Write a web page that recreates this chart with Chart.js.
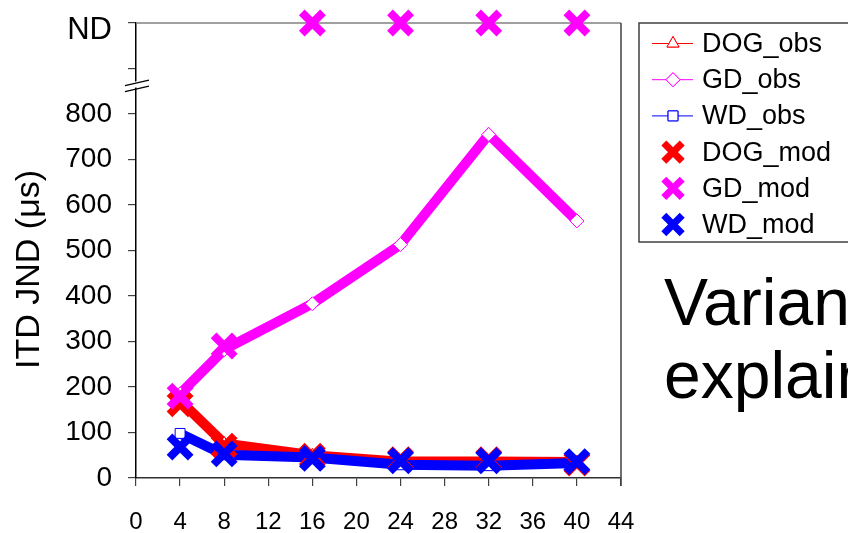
<!DOCTYPE html>
<html>
<head>
<meta charset="utf-8">
<script src="https://cdn.jsdelivr.net/npm/chart.js@4.4.1/dist/chart.umd.min.js"></script>
<style>
  html, body { margin: 0; padding: 0; background: #ffffff; overflow: hidden; }
  #wrap { position: relative; width: 848px; height: 533px; overflow: hidden; }
  #c { position: absolute; left: 0; top: 0; }
  #note { position: absolute; left: 664px; top: 266px; font-family: "Liberation Sans", Arial, sans-serif;
          font-size: 66px; line-height: 73px; color: #000; white-space: nowrap; }
</style>
</head>
<body>
<div id="wrap">
  <canvas id="c" width="848" height="533"></canvas>
  <div id="note">Variance<br>explained</div>
</div>
<script>
// ---- data ----
const xValues = [4, 8, 16, 24, 32, 40];
const ND = 1000;                      // plotted level for "not determined"
const dogObs = [170, 76, 50, 36, 36, 35];
const gdObs  = [185, 282, 383, 513, 755, 565];
const wdObs  = [98, 51, 45, 29, 27, 33];
const dogMod = [163, 70, 48, 40, 40, 33];
const gdMod  = [180, 290, ND, ND, ND, ND];
const wdMod  = [68, 53, 43, 38, 38, 36];
const xTicks = [0, 4, 8, 12, 16, 20, 24, 28, 32, 36, 40, 44];
const yTickLabels = {0:'0',100:'100',200:'200',300:'300',400:'400',500:'500',600:'600',700:'700',800:'800',900:'',1000:'ND'};

const RED = '#ff0000', MAG = '#ff00ff', BLUE = '#0000ff';
const FONT = '"Liberation Sans", Arial, sans-serif';

function pts(arr) { return xValues.map((x, i) => ({ x: x, y: arr[i] })); }

function obsSet(label, arr, color, style, order) {
  return { label, data: pts(arr), borderColor: color, backgroundColor: '#ffffff',
    borderWidth: 10, pointStyle: style, pointRadius: 7, pointBorderWidth: 1,
    pointBorderColor: color, pointBackgroundColor: '#ffffff', showLine: true,
    tension: 0, order, clip: false, legendKind: 'obs' };
}
function modSet(label, arr, color, order) {
  return { label, data: pts(arr), borderColor: color, backgroundColor: color,
    showLine: false, pointStyle: 'crossRot', pointRadius: 15, pointBorderWidth: 8,
    pointBorderColor: color, order, clip: false, legendKind: 'mod' };
}

const datasets = [
  obsSet('DOG_obs', dogObs, RED, 'triangle', 6),
  obsSet('GD_obs', gdObs, MAG, 'rectRot', 5),
  obsSet('WD_obs', wdObs, BLUE, 'rect', 4),
  modSet('DOG_mod', dogMod, RED, 3),
  modSet('GD_mod', gdMod, MAG, 2),
  modSet('WD_mod', wdMod, BLUE, 1)
];

// frame: top grey line, right border, axis break, legend
const framePlugin = {
  id: 'frame',
  beforeDatasetsDraw(chart) {
    const ctx = chart.ctx, a = chart.chartArea, ys = chart.scales.y;
    ctx.save();
    ctx.strokeStyle = '#808080'; ctx.lineWidth = 1.5;
    ctx.beginPath(); ctx.moveTo(a.left, a.top); ctx.lineTo(a.right, a.top); ctx.stroke();
    ctx.strokeStyle = '#404040';
    ctx.beginPath(); ctx.moveTo(a.right, a.top); ctx.lineTo(a.right, a.bottom + 8); ctx.stroke();
    // axis break
    const yb = ys.getPixelForValue(860);
    ctx.fillStyle = '#ffffff';
    ctx.beginPath();
    ctx.moveTo(a.left - 11, yb + 3); ctx.lineTo(a.left + 13, yb - 2);
    ctx.lineTo(a.left + 13, yb - 8); ctx.lineTo(a.left - 11, yb - 3); ctx.closePath(); ctx.fill();
    ctx.strokeStyle = '#000000'; ctx.lineWidth = 1.2;
    ctx.beginPath(); ctx.moveTo(a.left - 11, yb + 5); ctx.lineTo(a.left + 13, yb - 0.5); ctx.stroke();
    ctx.beginPath(); ctx.moveTo(a.left - 11, yb - 1); ctx.lineTo(a.left + 13, yb - 6.5); ctx.stroke();
    ctx.restore();
  },
  afterDraw(chart) {
    const ctx = chart.ctx, a = chart.chartArea;
    ctx.save();
    const lx = a.right + 18, ly = a.top, lh = 219;
    ctx.strokeStyle = '#404040'; ctx.lineWidth = 1.5;
    ctx.strokeRect(lx, ly, 260, lh);
    const rowH = 36.2, first = ly + 20.5;
    ctx.font = '27px ' + FONT; ctx.textBaseline = 'middle'; ctx.textAlign = 'left';
    chart.data.datasets.forEach((ds, i) => {
      const cy = first + i * rowH, sx = lx + 34;
      if (ds.legendKind === 'obs') {
        ctx.strokeStyle = ds.borderColor; ctx.lineWidth = 1;
        ctx.beginPath(); ctx.moveTo(lx + 13, cy); ctx.lineTo(lx + 54, cy); ctx.stroke();
        ctx.fillStyle = '#ffffff';
        Chart.helpers.drawPoint(ctx, { pointStyle: ds.pointStyle, radius: 7, borderWidth: 1, rotation: 0 }, sx, cy);
        ctx.fill(); ctx.stroke();
      } else {
        ctx.strokeStyle = ds.borderColor; ctx.lineWidth = 7;
        Chart.helpers.drawPoint(ctx, { pointStyle: 'crossRot', radius: 13, borderWidth: 7, rotation: 0 }, sx, cy);
      }
      ctx.fillStyle = '#000000';
      ctx.fillText(ds.label, lx + 63, cy + 1);
    });
    ctx.restore();
  }
};

new Chart(document.getElementById('c'), {
  type: 'scatter',
  data: { datasets },
  options: {
    responsive: false, animation: false,
    layout: { padding: { top: 21, right: 227, left: 0, bottom: 0 } },
    plugins: { legend: { display: false }, tooltip: { enabled: false } },
    elements: { line: { borderCapStyle: 'butt', borderJoinStyle: 'miter' } },
    scales: {
      x: {
        type: 'linear', min: 0, max: 44,
        afterBuildTicks: s => { s.ticks = xTicks.map(v => ({ value: v })); },
        afterFit: s => { s.height = 55; s.paddingLeft = 0; s.paddingRight = 0; },
        grid: { display: true, drawOnChartArea: false, drawTicks: true, tickLength: 8, color: '#404040', lineWidth: 1.2 },
        border: { display: true, color: '#303030', width: 1.5 },
        ticks: { font: { family: FONT, size: 24 }, color: '#000', padding: 22, maxRotation: 0, autoSkip: false }
      },
      y: {
        type: 'linear', min: 0, max: 1000,
        afterBuildTicks: s => { s.ticks = Object.keys(yTickLabels).map(v => ({ value: +v })); },
        afterFit: s => { s.width = 136; s.paddingTop = 0; s.paddingBottom = 0; },
        grid: { display: true, drawOnChartArea: false, drawTicks: true, tickLength: 8, color: '#404040', lineWidth: 1.2 },
        border: { display: true, color: '#000000', width: 1.5 },
        ticks: {
          font: c => (c.tick && c.tick.value === ND)
            ? { family: FONT, size: 31, lineHeight: 0.45 }
            : { family: FONT, size: 28 },
          color: '#000', padding: 16, autoSkip: false,
          callback: v => (v === ND ? ['', yTickLabels[v]] : yTickLabels[v])
        },
        title: { display: true, text: 'ITD JND (μs)    ', font: { family: FONT, size: 34 }, color: '#000', padding: { top: 9, bottom: 0 } }
      }
    }
  },
  plugins: [framePlugin]
});
</script>
</body>
</html>
